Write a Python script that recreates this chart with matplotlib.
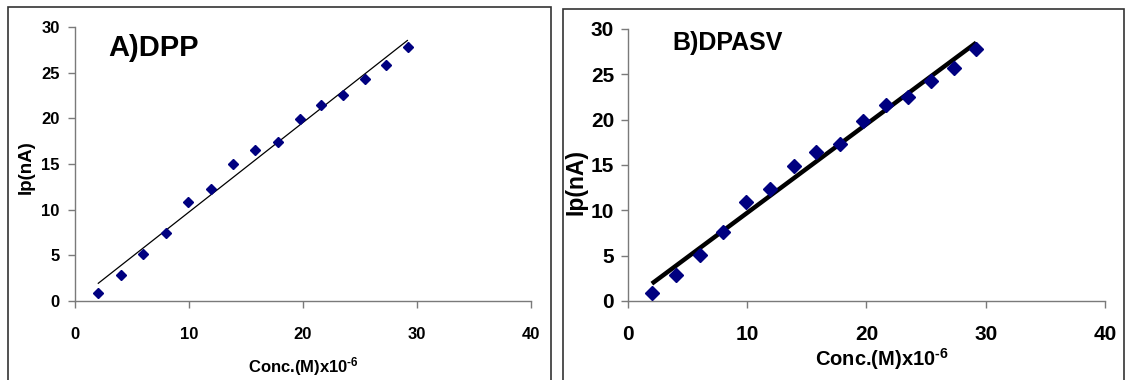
import matplotlib
matplotlib.use("Agg")
import matplotlib.pyplot as plt
from matplotlib import font_manager
from matplotlib.patches import Rectangle
import numpy as np

names = {f.name for f in font_manager.fontManager.ttflist}
FONT = "Liberation Sans Narrow" if "Liberation Sans Narrow" in names else "Liberation Sans"
plt.rcParams["font.family"] = [FONT, "DejaVu Sans"]
plt.rcParams["font.weight"] = "bold"
plt.rcParams["mathtext.fontset"] = "custom"
plt.rcParams["mathtext.rm"] = FONT + ":bold"
plt.rcParams["mathtext.bf"] = FONT + ":bold"
plt.rcParams["mathtext.default"] = "bf"

# Data
conc = [2.0, 4.0, 6.0, 8.0, 9.9, 11.9, 13.9, 15.8, 17.8, 19.7, 21.6, 23.5, 25.4, 27.3, 29.2]
ip_dpp = [0.85, 2.87, 5.16, 7.5, 10.87, 12.3, 14.95, 16.5, 17.4, 19.9, 21.5, 22.6, 24.35, 25.85, 27.85]
ip_dpasv = [0.85, 2.83, 5.08, 7.58, 10.9, 12.4, 14.9, 16.4, 17.3, 19.9, 21.6, 22.45, 24.3, 25.7, 27.8]
titles = ["A)DPP", "B)DPASV"]
xticks = [0, 10, 20, 30, 40]
yticks = [0, 5, 10, 15, 20, 25, 30]
xlabel = r"Conc.(M)x10$^{\text{-6}}$"
ylabel = "Ip(nA)"

W, H = 1125, 380
fig = plt.figure(figsize=(W / 100, H / 100), dpi=100)

# panel borders
fig.patches.append(Rectangle((8 / W, -0.05), (551 - 8) / W, 1.05 - 7 / H, transform=fig.transFigure,
                             fill=False, edgecolor="#333333", linewidth=1.2))
fig.patches.append(Rectangle((563 / W, -0.05), (1124 - 563) / W, 1.05 - 9 / H, transform=fig.transFigure,
                             fill=False, edgecolor="#333333", linewidth=1.2))

specs = [
    dict(rect=[75 / W, 1 - 301 / H, 456 / W, 274 / H], data=ip_dpp, tick_fs=12, title_fs=21,
         title_xy=(108, 56), lab_fs=12, ylab_fs=13.5, ms=5.0, lw=0.9, ylab_xy=(26, 167),
         xlab_xy=(303, 372), pad_y=6, pad_x=14),
    dict(rect=[628 / W, 1 - 301 / H, 477 / W, 272 / H], data=ip_dpasv, tick_fs=15, title_fs=18,
         title_xy=(672, 50), lab_fs=14.5, ylab_fs=16.5, ms=7.5, lw=3.2, ylab_xy=(576, 182),
         xlab_xy=(882, 366), pad_y=5, pad_x=12),
]

for s, title in zip(specs, titles):
    ax = fig.add_axes(s["rect"])
    x = np.array(conc)
    y = np.array(s["data"])
    m, b = np.polyfit(x, y, 1)
    xl = np.array([x.min(), x.max()])
    ax.plot(xl, m * xl + b, color="black", lw=s["lw"], solid_capstyle="butt", zorder=2)
    ax.plot(x, y, linestyle="none", marker="D", ms=s["ms"], color="#000080", mec="#000080", zorder=3)
    ax.set_xlim(0, 40)
    ax.set_ylim(0, 30)
    ax.set_xticks(xticks)
    ax.set_yticks(yticks)
    for sp in ["top", "right"]:
        ax.spines[sp].set_visible(False)
    for sp in ["left", "bottom"]:
        ax.spines[sp].set_color("#7a7a7a")
        ax.spines[sp].set_linewidth(1.0)
    ax.tick_params(axis="both", direction="out", length=5, width=1.0, color="#7a7a7a",
                   labelsize=s["tick_fs"])
    ax.tick_params(axis="y", pad=s["pad_y"])
    ax.tick_params(axis="x", pad=s["pad_x"])
    for lab in ax.get_xticklabels() + ax.get_yticklabels():
        lab.set_fontweight("bold")
    fig.text(s["title_xy"][0] / W, 1 - s["title_xy"][1] / H, title, fontsize=s["title_fs"],
             fontweight="bold", ha="left", va="baseline")
    fig.text(s["ylab_xy"][0] / W, 1 - s["ylab_xy"][1] / H, ylabel, fontsize=s["ylab_fs"],
             fontweight="bold", rotation=90, ha="center", va="center")
    fig.text(s["xlab_xy"][0] / W, 1 - s["xlab_xy"][1] / H, xlabel, fontsize=s["lab_fs"],
             fontweight="bold", ha="center", va="baseline")

fig.savefig("out.png", dpi=100)
